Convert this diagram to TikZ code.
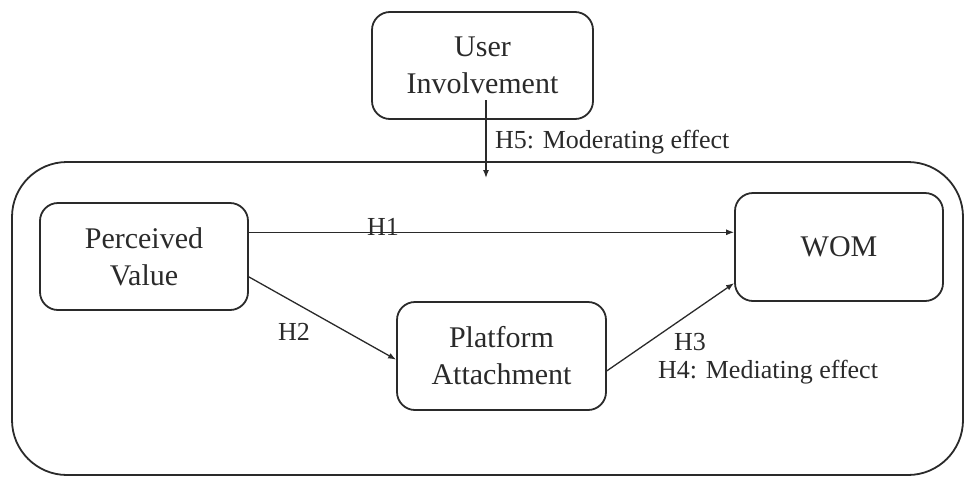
\documentclass[tikz,border=0pt]{standalone}
\usepackage{fontspec}
\setmainfont{Liberation Serif}
\usetikzlibrary{arrows.meta,calc}
\definecolor{ink}{HTML}{2A2A2A}
\begin{document}
\begin{tikzpicture}[x=1pt,y=-1pt,
  boxnode/.style={draw=ink,line width=1.8pt,rounded corners=18pt,align=center,
    text=ink,font=\fontsize{30}{37}\selectfont,inner sep=0pt},
  lbl/.style={text=ink,font=\fontsize{26}{31}\selectfont,inner sep=0pt,anchor=base west},
  arr/.style={draw=ink,line width=1.3pt,-{Latex[length=8pt,width=6pt]}}]
\useasboundingbox (0,0) rectangle (965,477);
\draw[ink,line width=1.8pt,rounded corners=55pt] (12,162) rectangle (963,475);
\node[boxnode,minimum width=221pt,minimum height=107pt] (UI) at (482.5,65.5) {User\\Involvement};
\node[boxnode,minimum width=208pt,minimum height=107pt] (PV) at (144,256.5) {Perceived\\Value};
\node[boxnode,minimum width=208pt,minimum height=108pt] (WOM) at (839,247) {WOM};
\node[boxnode,minimum width=209pt,minimum height=108pt] (PA) at (501.5,356) {Platform\\Attachment};
\coordinate (modtarget) at (486,178);
\draw[arr] ([shift={(3.5,34.5)}]UI.center) -- (modtarget);
\draw[arr] (PV.13) -- (PV.13 -| WOM.west);
\draw[arr] (PV.-11) -- (PA.182);
\draw[arr] (PA.-8) -- (WOM.199);
\node[lbl] (h5) at (495,148) {H5: Moderating effect};
\node[lbl] (h1) at (367,235) {H1};
\node[lbl] (h2) at (278,340) {H2};
\node[lbl] (h3) at (674,350) {H3};
\node[lbl] (h4) at (658,378) {H4: Mediating effect};
\end{tikzpicture}
\end{document}
